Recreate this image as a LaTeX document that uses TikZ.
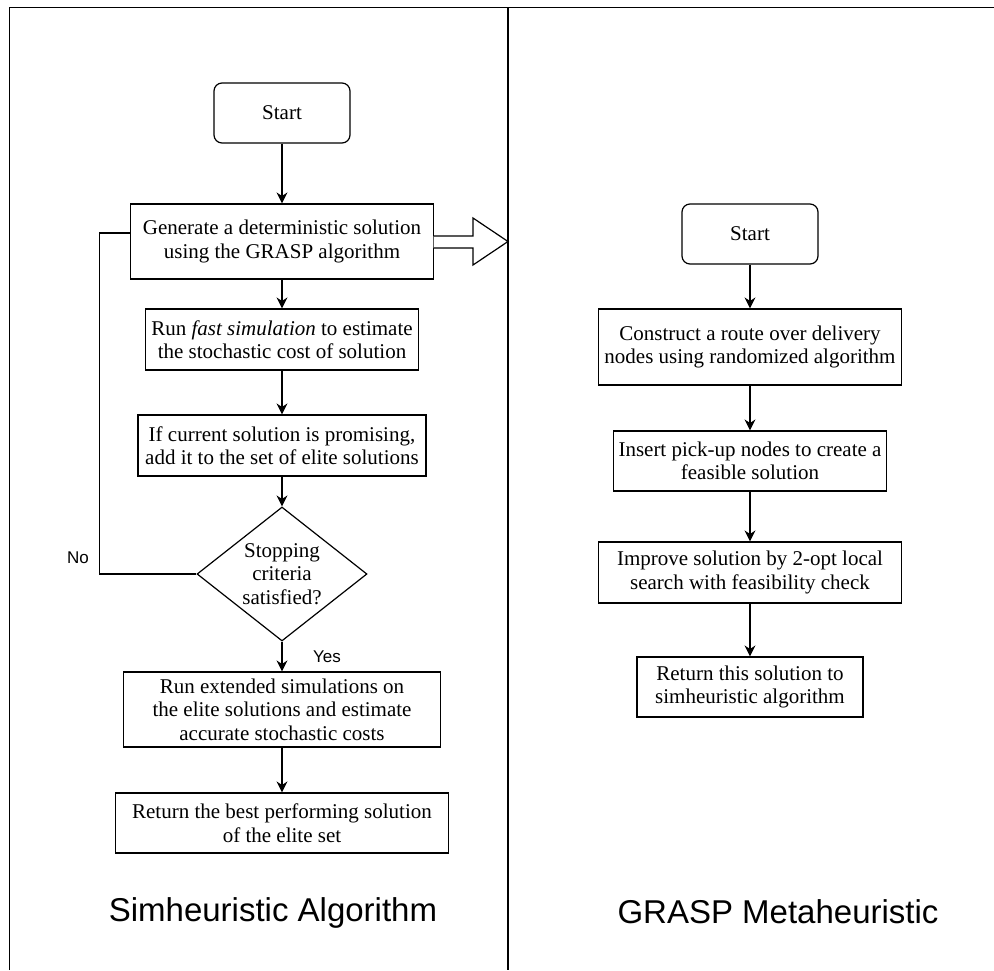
\documentclass[tikz,border=0pt]{standalone}
\usepackage{fontspec}
\setmainfont{Liberation Serif}
\newfontfamily\labelfont{Liberation Sans}
\usetikzlibrary{arrows.meta,positioning,calc,shapes.geometric}

\begin{document}
\begin{tikzpicture}[x=1pt, y=-1pt,
    every node/.style={font=\fontsize{21}{23.5}\selectfont, align=center, inner sep=1pt},
    box/.style={draw, line width=1.2pt, rectangle},
    startbox/.style={box, rounded corners=8pt, minimum width=136pt, minimum height=60pt},
    arr/.style={line width=1.2pt, -{Stealth[length=11pt,width=11pt]}}]
    \useasboundingbox (0,0) rectangle (994,970);

    % frame: left, top, divider
    \draw[line width=1.5pt] (9.5,970) -- (9.5,7.5) -- (994,7.5);
    \draw[line width=1.2pt] (508,7.5) -- (508,970);

    % simheuristic loop (left)
    \node[startbox] (s0) at (282,113) {Start};
    \node[box, minimum width=303pt, minimum height=75pt] (s1) at (282,241.5) {Generate a deterministic solution\\using the GRASP algorithm};
    \node[box, minimum width=273pt, minimum height=61pt] (s2) at (282,339.5) {Run \textit{fast simulation} to estimate\\the stochastic cost of solution};
    \node[box, minimum width=288pt, minimum height=61pt] (s3) at (282,445.5) {If current solution is promising,\\add it to the set of elite solutions};
    \node[draw, diamond, line width=1.2pt, minimum width=170pt, minimum height=134pt, inner sep=0pt] (s4) at (282,574) {};
    \node (s4t) at (s4) {Stopping\\criteria\\satisfied?};
    \node[box, minimum width=317pt, minimum height=75pt] (s5) at (282,709.5) {Run extended simulations on\\the elite solutions and estimate\\accurate stochastic costs};
    \node[box, minimum width=333pt, minimum height=60pt] (s6) at (282,823) {Return the best performing solution\\of the elite set};
    \foreach \u/\v in {s0/s1,s1/s2,s2/s3,s3/s4,s4/s5,s5/s6}{
      \draw[arr] (\u.south) -- (\v.north);
    }
    \draw[line width=1.2pt] (s4.west) -- ++(-97,0) |- ([yshift=8.5pt]s1.west);
    \node[font=\labelfont\fontsize{17}{20}\selectfont] (no) at (78,558) {No};
    \node[font=\labelfont\fontsize{17}{20}\selectfont] (yes) at (327,657) {Yes};

    % hollow arrow into the GRASP side
    \draw[line width=1.2pt, fill=white] (433.5,236) -- (473,236) -- (473,218) -- (508,241.5)
      -- (473,265) -- (473,248) -- (433.5,248);

    % GRASP (right)
    \node[startbox] (g0) at (750,234) {Start};
    \node[box, minimum width=303pt, minimum height=76pt] (g1) at (750,347) {Construct a route over delivery\\nodes using randomized algorithm};
    \node[box, minimum width=273pt, minimum height=60pt] (g2) at (750,461) {Insert pick-up nodes to create a\\feasible solution};
    \node[box, minimum width=303pt, minimum height=61pt] (g3) at (750,572.5) {Improve solution by 2-opt local\\search with feasibility check};
    \node[box, minimum width=226pt, minimum height=60pt] (g4) at (750,687) {Return this solution to\\simheuristic algorithm};
    \foreach \u/\v in {g0/g1,g1/g2,g2/g3,g3/g4}{
      \draw[arr] (\u.south) -- (\v.north);
    }

    % titles
    \node[font=\labelfont\fontsize{33}{38}\selectfont] (t1) at (273,913) {Simheuristic Algorithm};
    \node[font=\labelfont\fontsize{33}{38}\selectfont] (t2) at (778,912) {GRASP Metaheuristic};
\end{tikzpicture}
\end{document}
